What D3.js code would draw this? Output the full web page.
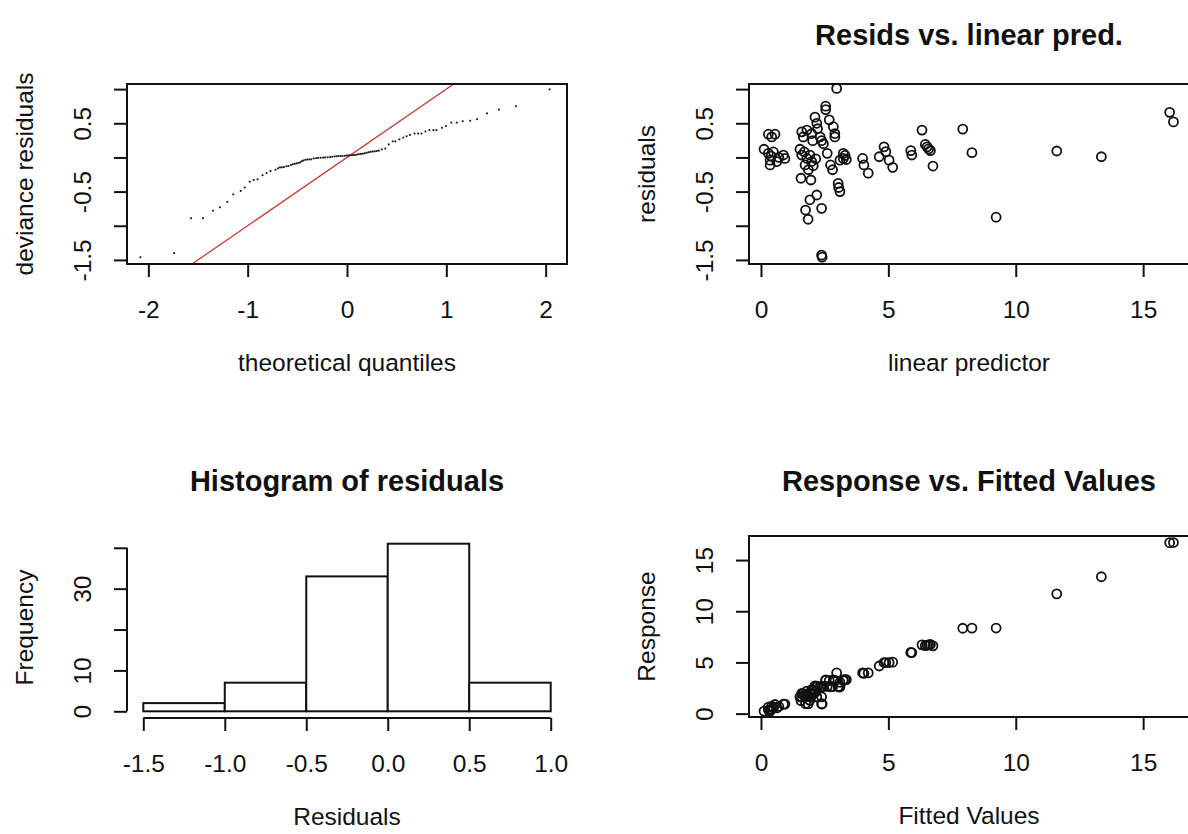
<!DOCTYPE html>
<html><head><meta charset="utf-8">
<script src="https://cdn.jsdelivr.net/npm/d3@7"></script>
<style>
body{margin:0;background:#fff;}
svg text{font-family:"Liberation Sans",Arial,sans-serif;fill:#111;}
</style></head><body>
<svg id="chart" width="1188" height="834"></svg>
<script>
// ---------------- DATA ----------------
// Panel 1: QQ plot of deviance residuals
const qqTheoretical = [-2.08,-1.74,-1.57,-1.45,-1.35,-1.28,-1.205,-1.145,-1.07,-1.03,-0.98,-0.94,-0.90,-0.85,-0.81,-0.77,-0.72,-0.695,-0.675,-0.655,-0.635,-0.61,-0.59,-0.565,-0.545,-0.525,-0.505,-0.485,-0.47,-0.455,-0.44,-0.42,-0.40,-0.38,-0.36,-0.335,-0.31,-0.29,-0.265,-0.24,-0.22,-0.195,-0.17,-0.148,-0.125,-0.105,-0.085,-0.065,-0.045,-0.022,0.0,0.02,0.04,0.06,0.08,0.10,0.12,0.14,0.16,0.18,0.20,0.22,0.24,0.26,0.28,0.30,0.32,0.35,0.386,0.42,0.46,0.487,0.527,0.567,0.60,0.634,0.68,0.715,0.75,0.79,0.83,0.87,0.90,0.957,0.997,1.05,1.105,1.165,1.24,1.31,1.41,1.53,1.70,2.04];
const qqDeviance = [-1.46,-1.40,-0.89,-0.89,-0.78,-0.73,-0.65,-0.54,-0.49,-0.44,-0.355,-0.33,-0.32,-0.26,-0.23,-0.20,-0.18,-0.16,-0.145,-0.145,-0.14,-0.13,-0.125,-0.11,-0.10,-0.092,-0.086,-0.08,-0.07,-0.055,-0.045,-0.035,-0.03,-0.029,-0.028,-0.015,-0.01,-0.007,-0.005,-0.002,0.0,0.002,0.005,0.01,0.015,0.018,0.02,0.021,0.022,0.025,0.028,0.03,0.033,0.035,0.036,0.042,0.048,0.052,0.055,0.062,0.07,0.077,0.083,0.087,0.09,0.095,0.10,0.118,0.13,0.19,0.235,0.235,0.265,0.29,0.31,0.33,0.35,0.35,0.35,0.38,0.40,0.40,0.40,0.434,0.46,0.51,0.51,0.53,0.537,0.56,0.645,0.70,0.75,0.996];
const refLine = {intercept: 0, slope: 1};

// Panels 2 and 4: linear predictor (= fitted values), residuals, response
const linPred = [0.12,0.29,0.29,0.42,0.55,0.49,0.36,0.36,0.62,0.88,0.94,0.40,0.70,1.53,1.60,1.66,1.60,1.80,1.80,1.92,1.73,1.99,1.99,1.86,1.57,1.96,2.03,2.12,2.19,2.32,2.38,2.19,1.92,1.75,2.38,1.85,2.38,2.40,2.54,2.54,2.68,2.84,2.90,2.90,2.97,2.60,2.73,2.81,3.23,3.23,3.10,3.30,3.35,3.03,3.10,3.05,3.99,4.04,4.21,4.64,4.83,4.90,5.03,5.17,5.88,5.92,6.32,6.45,6.52,6.58,6.65,6.75,7.92,8.28,9.23,11.61,13.36,16.04,16.19,1.70,2.05,2.22,2.45,2.15];
const residuals = [0.12,0.06,0.34,0.30,0.34,0.08,-0.04,-0.11,-0.06,0.035,-0.015,0.02,0.0,0.12,0.375,0.30,0.035,0.40,-0.015,0.035,-0.11,0.35,-0.06,-0.18,-0.305,-0.33,0.245,0.59,0.50,0.30,0.245,-0.55,-0.62,-0.77,-0.745,-0.905,-1.43,-1.46,0.75,0.70,0.55,0.45,0.35,0.30,1.01,0.06,-0.11,-0.18,0.06,-0.015,-0.04,0.03,-0.03,-0.38,-0.50,-0.44,-0.015,-0.11,-0.23,0.01,0.155,0.085,-0.04,-0.145,0.10,0.035,0.40,0.19,0.155,0.125,0.10,-0.126,0.415,0.07,-0.875,0.094,0.01,0.66,0.52,0.08,-0.12,0.42,0.20,-0.02];
const response = [0.24,0.35,0.63,0.72,0.89,0.57,0.32,0.25,0.56,0.92,0.93,0.42,0.70,1.65,1.98,1.96,1.64,2.20,1.79,1.96,1.62,2.34,1.93,1.68,1.27,1.63,2.28,2.71,2.69,2.62,2.63,1.64,1.30,0.98,1.64,0.95,0.95,0.94,3.29,3.24,3.23,3.29,3.25,3.20,3.98,2.66,2.62,2.63,3.29,3.22,3.06,3.33,3.32,2.65,2.60,2.61,3.98,3.93,3.98,4.65,4.99,4.99,4.99,5.03,5.98,5.96,6.72,6.64,6.68,6.71,6.75,6.62,8.34,8.35,8.36,11.70,13.37,16.70,16.71,1.78,1.93,2.64,2.65,2.13];

// Panel 3: histogram of residuals
const histBreaks = [-1.5,-1.0,-0.5,0.0,0.5,1.0];
const histCounts = [2,7,33,41,7];

// Tick values and labels
const qqXTicks = [-2,-1,0,1,2];
const qqXLabels = ["-2","-1","0","1","2"];
const residTicks = [-1.5,-1,-0.5,0,0.5,1];
const residLabels = ["-1.5","","-0.5","","0.5",""];
const predTicks = [0,5,10,15];
const predLabels = ["0","5","10","15"];
const histXTicks = [-1.5,-1,-0.5,0,0.5,1];
const histXLabels = ["-1.5","-1.0","-0.5","0.0","0.5","1.0"];
const freqTicks = [0,10,20,30,40];
const freqLabels = ["0","10","","30",""];
const respTicks = [0,5,10,15];
const respLabels = ["0","5","10","15"];

// Titles and axis labels
const titles = ["", "Resids vs. linear pred.", "Histogram of residuals", "Response vs. Fitted Values"];
const xLabels = ["theoretical quantiles", "linear predictor", "Residuals", "Fitted Values"];
const yLabels = ["deviance residuals", "residuals", "Frequency", "Response"];

// ---------------- DRAWING ----------------
const svg = d3.select("#chart");
const FS = 24.5, TFS = 29, INK = "#111";
const TICK = 13, LAB = 45, TTL = 98;

const panels = [
  {x0:127, x1:567, y0:84, y1:264, titleY:45},
  {x0:749, x1:1189, y0:84, y1:264, titleY:45},
  {x0:127, x1:567, y0:537, y1:718, titleY:491},
  {x0:749, x1:1189, y0:536, y1:717, titleY:491}
];

const sx = [
  d3.scaleLinear().domain([-2.215, 2.215]).range([panels[0].x0, panels[0].x1]),
  d3.scaleLinear().domain([-0.47, 16.8]).range([panels[1].x0, panels[1].x1]),
  d3.scaleLinear().domain([-1.6, 1.1]).range([panels[2].x0, panels[2].x1]),
  d3.scaleLinear().domain([-0.47, 16.8]).range([panels[3].x0, panels[3].x1])
];
const sy = [
  d3.scaleLinear().domain([-1.56, 1.075]).range([panels[0].y1, panels[0].y0]),
  d3.scaleLinear().domain([-1.56, 1.075]).range([panels[1].y1, panels[1].y0]),
  d3.scaleLinear().domain([-1.64, 42.64]).range([panels[2].y1, panels[2].y0]),
  d3.scaleLinear().domain([-0.33, 17.35]).range([panels[3].y1, panels[3].y0])
];

function bottomAxis(scale, y, ticks, labels) {
  const g = svg.append("g").attr("transform", `translate(0,${y})`)
    .call(d3.axisBottom(scale).tickValues(ticks).tickFormat((d,i)=>labels[i]).tickSize(TICK).tickSizeOuter(0));
  g.attr("font-size", FS).attr("color", INK);
  g.select(".domain").remove();
  g.selectAll(".tick line").attr("stroke-width", 2);
  g.selectAll(".tick text").attr("y", LAB).attr("dy", "0.35em");
  g.append("line").attr("x1", scale(ticks[0])).attr("x2", scale(ticks[ticks.length-1]))
    .attr("y1", 0).attr("y2", 0).attr("stroke", INK).attr("stroke-width", 2);
}
function leftAxis(scale, x, ticks, labels) {
  const g = svg.append("g").attr("transform", `translate(${x},0)`)
    .call(d3.axisLeft(scale).tickValues(ticks).tickFormat((d,i)=>labels[i]).tickSize(TICK).tickSizeOuter(0));
  g.attr("font-size", FS).attr("color", INK);
  g.select(".domain").remove();
  g.selectAll(".tick line").attr("stroke-width", 2);
  g.selectAll(".tick text").attr("x", null).attr("dy", "0.35em")
    .attr("text-anchor", "middle").attr("transform", `translate(${-LAB},0) rotate(-90)`);
  g.append("line").attr("y1", scale(ticks[0])).attr("y2", scale(ticks[ticks.length-1]))
    .attr("x1", 0).attr("x2", 0).attr("stroke", INK).attr("stroke-width", 2);
}
function labelsFor(i) {
  const p = panels[i];
  const cx = (p.x0 + p.x1) / 2, cy = (p.y0 + p.y1) / 2;
  if (titles[i]) svg.append("text").attr("x", cx).attr("y", p.titleY)
    .attr("text-anchor", "middle").attr("font-size", TFS).attr("font-weight", "bold").text(titles[i]);
  svg.append("text").attr("x", cx).attr("y", p.y1 + TTL).attr("dy", "0.35em")
    .attr("text-anchor", "middle").attr("font-size", FS).text(xLabels[i]);
  svg.append("text").attr("transform", `translate(${p.x0 - TTL - 5},${cy}) rotate(-90)`).attr("dy", "0.35em")
    .attr("text-anchor", "middle").attr("font-size", FS).text(yLabels[i]);
}
function box(i) {
  const p = panels[i];
  svg.append("rect").attr("x", p.x0).attr("y", p.y0).attr("width", p.x1 - p.x0).attr("height", p.y1 - p.y0)
    .attr("fill", "none").attr("stroke", INK).attr("stroke-width", 2);
}

// ---- Panel 1: QQ plot ----
{
  const p = panels[0], x = sx[0], y = sy[0];
  svg.append("clipPath").attr("id", "clip1").append("rect")
    .attr("x", p.x0).attr("y", p.y0).attr("width", p.x1 - p.x0).attr("height", p.y1 - p.y0);
  const dom = x.domain();
  svg.append("line").attr("clip-path", "url(#clip1)")
    .attr("x1", x(dom[0])).attr("y1", y(refLine.intercept + refLine.slope * dom[0]))
    .attr("x2", x(dom[1])).attr("y2", y(refLine.intercept + refLine.slope * dom[1]))
    .attr("stroke", "#c83c3c").attr("stroke-width", 1.3);
  svg.append("g").selectAll("rect").data(qqTheoretical).join("rect")
    .attr("x", (d) => x(d) - 0.9).attr("y", (d,i) => y(qqDeviance[i]) - 0.9)
    .attr("width", 1.8).attr("height", 1.8).attr("fill", INK);
  box(0);
  bottomAxis(x, p.y1, qqXTicks, qqXLabels);
  leftAxis(y, p.x0, residTicks, residLabels);
  labelsFor(0);
}

// ---- Panel 2: residuals vs linear predictor ----
{
  const p = panels[1], x = sx[1], y = sy[1];
  svg.append("g").selectAll("circle").data(linPred).join("circle")
    .attr("cx", (d) => x(d)).attr("cy", (d,i) => y(residuals[i])).attr("r", 4.5)
    .attr("fill", "none").attr("stroke", INK).attr("stroke-width", 1.8);
  box(1);
  bottomAxis(x, p.y1, predTicks, predLabels);
  leftAxis(y, p.x0, residTicks, residLabels);
  labelsFor(1);
}

// ---- Panel 3: histogram ----
{
  const p = panels[2], x = sx[2], y = sy[2];
  svg.append("g").selectAll("rect").data(histCounts).join("rect")
    .attr("x", (d,i) => x(histBreaks[i])).attr("width", (d,i) => x(histBreaks[i+1]) - x(histBreaks[i]))
    .attr("y", (d) => y(d)).attr("height", (d) => y(0) - y(d))
    .attr("fill", "#fff").attr("stroke", INK).attr("stroke-width", 2);
  bottomAxis(x, p.y1, histXTicks, histXLabels);
  leftAxis(y, p.x0, freqTicks, freqLabels);
  labelsFor(2);
}

// ---- Panel 4: response vs fitted ----
{
  const p = panels[3], x = sx[3], y = sy[3];
  svg.append("g").selectAll("circle").data(linPred).join("circle")
    .attr("cx", (d) => x(d)).attr("cy", (d,i) => y(response[i])).attr("r", 4.5)
    .attr("fill", "none").attr("stroke", INK).attr("stroke-width", 1.8);
  box(3);
  bottomAxis(x, p.y1, predTicks, predLabels);
  leftAxis(y, p.x0, respTicks, respLabels);
  labelsFor(3);
}
</script>
</body></html>
